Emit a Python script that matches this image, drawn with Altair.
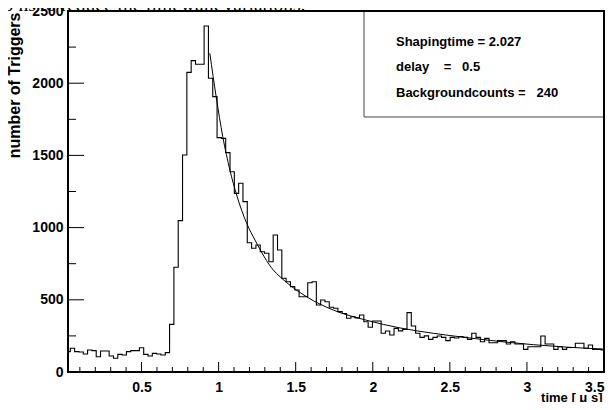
import altair as alt
import pandas as pd

# ---------------- data ----------------
bin_start0 = 0.01
bin_width = 0.028
counts = [141, 164, 141, 138, 125, 152, 148, 106, 145, 145, 111, 95, 122, 118, 141, 148, 148, 168, 122, 111, 129, 125, 118, 134,
          330, 725, 1048, 1503, 2075, 2156, 2131, 2131, 2396, 2034, 1907, 1623, 1618, 1519, 1387, 1237, 1307, 1180,
          895, 857, 880, 833, 822, 764, 949, 845, 649, 625, 591, 568, 521, 521, 618, 625, 464, 499, 487, 448, 441, 418, 405, 372, 383, 375, 395, 348,
          310, 353, 353, 268, 284, 256, 302, 285, 295, 411, 319, 268, 240, 250, 226, 240, 249, 240,
          217, 240, 235, 245, 240, 226, 268, 240, 210, 233, 203, 203, 217, 217,
          194, 210, 194, 194, 157, 175, 175, 175, 249, 194, 194, 157, 175, 157, 170, 170, 199, 199, 164, 187, 157, 157, 152]

fit_x = [0.943, 0.984, 1.027, 1.073, 1.117, 1.182, 1.236, 1.355, 1.398, 1.571, 1.744, 1.961, 2.177, 2.394, 2.610, 2.827, 3.043, 3.260, 3.500]
fit_y = [2207, 1907, 1630, 1399, 1226, 1030, 914, 706, 660, 521, 429, 358, 305, 268, 238, 211, 189, 172, 158]

y_major = [0, 500, 1000, 1500, 2000, 2500]
y_minor = [250, 750, 1250, 1750, 2250]
x_major = [0.5, 1, 1.5, 2, 2.5, 3, 3.5]
x_minor = [0.1, 0.2, 0.3, 0.4, 0.6, 0.7, 0.8, 0.9, 1.1, 1.2, 1.3, 1.4, 1.6, 1.7, 1.8, 1.9,
           2.1, 2.2, 2.3, 2.4, 2.6, 2.7, 2.8, 2.9, 3.1, 3.2, 3.3, 3.4]

stats_lines = ["Shapingtime = 2.027",
               "delay\u00a0\u00a0\u00a0\u00a0=\u00a0\u00a0\u00a00.5",
               "Backgroundcounts =\u00a0\u00a0\u00a0240"]
top_text = "60 ns to reduce the timewalk variations."
x_title = "time [ \u03bc s]"
y_title = "number of Triggers"

# ---------------- tables ----------------
edges = [bin_start0 + bin_width * i for i in range(len(counts) + 1)]
hist_df = pd.DataFrame({"t": edges, "n": counts + [counts[-1]]})
fit_df = pd.DataFrame({"t": fit_x, "n": fit_y})
ymaj_df = pd.DataFrame({"v": y_major})
ymin_df = pd.DataFrame({"v": y_minor})
xmaj_df = pd.DataFrame({"v": x_major})
xmin_df = pd.DataFrame({"v": x_minor})
one_df = pd.DataFrame({"k": [0]})

W, H = 536, 361
FONT = "Liberation Sans"

xscale = alt.Scale(domain=[0.023, 3.5], nice=False, zero=False)
yscale = alt.Scale(domain=[0, 2500], nice=False, zero=False)

hist = alt.Chart(hist_df).mark_line(
    interpolate="step-after", color="black", strokeWidth=1.1, clip=True
).encode(
    x=alt.X("t:Q", scale=xscale, axis=alt.Axis(
        values=x_major, format="~g", title=x_title, ticks=False,
        domain=False, grid=False, labelPadding=8, labelFlush=True, labelOverlap=False,
        titleAnchor="end", titleAlign="right", titleX=W - 2, titleY=29.5,
        titleBaseline="alphabetic", titleFontSize=13)),
    y=alt.Y("n:Q", scale=yscale, axis=alt.Axis(
        values=y_major, format="d", title=y_title, ticks=False, domain=False, grid=False,
        labelPadding=5, labelOverlap=False, labelFlush=False,
        titleAngle=270, titleAlign="right", titleAnchor="end",
        titleX=-49, titleY=1, titleBaseline="alphabetic", titleFontSize=16)),
)

fit = alt.Chart(fit_df).mark_line(
    interpolate="monotone", color="black", strokeWidth=1, clip=True
).encode(
    x=alt.X("t:Q", scale=xscale),
    y=alt.Y("n:Q", scale=yscale),
)

ymaj = alt.Chart(ymaj_df).mark_rule(color="black", strokeWidth=1).encode(
    y=alt.Y("v:Q", scale=yscale), x=alt.value(0), x2=alt.value(16))
ymin = alt.Chart(ymin_df).mark_rule(color="black", strokeWidth=1).encode(
    y=alt.Y("v:Q", scale=yscale), x=alt.value(0), x2=alt.value(8))
xmaj = alt.Chart(xmaj_df).mark_rule(color="black", strokeWidth=1).encode(
    x=alt.X("v:Q", scale=xscale), y=alt.value(H), y2=alt.value(H - 10))
xmin = alt.Chart(xmin_df).mark_rule(color="black", strokeWidth=1).encode(
    x=alt.X("v:Q", scale=xscale), y=alt.value(H), y2=alt.value(H - 5))

box = alt.Chart(one_df).mark_rect(fill="white", stroke="#444444", strokeWidth=1).encode(
    x=alt.value(296), x2=alt.value(536), y=alt.value(0), y2=alt.value(106))

stat_rows = [30.7, 56.3, 82.3]
stats_layers = [
    alt.Chart(one_df).mark_text(
        align="left", baseline="middle", font=FONT, fontWeight="bold", fontSize=13,
        color="black", text=line
    ).encode(x=alt.value(328), y=alt.value(ypos))
    for line, ypos in zip(stats_lines, stat_rows)
]

frame = alt.Chart(one_df).mark_rect(fillOpacity=0, stroke="black", strokeWidth=2).encode(
    x=alt.value(0), x2=alt.value(W), y=alt.value(0), y2=alt.value(H))

top = alt.Chart(one_df).mark_text(
    align="left", baseline="alphabetic", font="Liberation Serif", fontSize=19.5,
    color="black", text=top_text
).encode(x=alt.value(-74), y=alt.value(-0.5))

chart = alt.layer(hist, box, *stats_layers, fit, ymaj, ymin, xmaj, xmin, frame, top).properties(
    width=W, height=H,
    autosize=alt.AutoSizeParams(type="none"),
    padding={"left": 60, "top": 3, "right": 4, "bottom": 30},
    background="white",
).configure_view(stroke=None).configure_axis(
    labelFont=FONT, labelFontWeight="bold", labelFontSize=14, labelColor="black",
    titleFont=FONT, titleFontWeight="bold", titleFontSize=14, titleColor="black",
)

chart.save("out.html", embed_options={"renderer": "svg", "actions": False})
